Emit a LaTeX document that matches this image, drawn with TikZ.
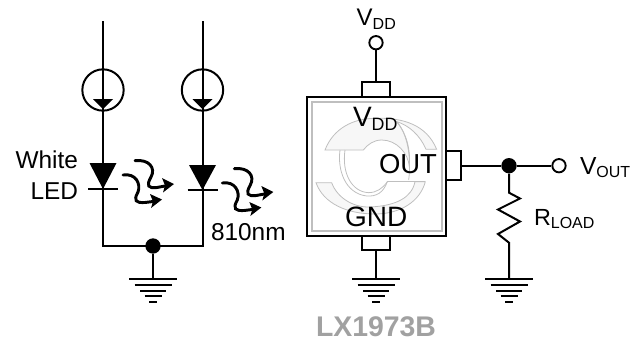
\documentclass[tikz,border=0pt]{standalone}
\usepackage{fontspec}
\setmainfont{Liberation Sans}
\usetikzlibrary{arrows.meta}
\newcommand{\fs}[1]{\fontsize{#1}{#1}\selectfont}
\newcommand{\lbl}[4]{\fs{#1}#2\raisebox{-#4pt}{\fs{12}#3}}
\tikzset{
  wire/.style={line width=1.5pt,line cap=butt},
  dotnode/.style={circle,fill=black,draw=none,inner sep=0pt,minimum size=11.5pt},
  pinnode/.style={circle,draw=black,fill=white,line width=1.4pt,inner sep=0pt,minimum size=10pt},
  srcnode/.style={circle,draw=black,line width=1.5pt,inner sep=0pt,minimum size=31pt},
  txt/.style={anchor=base west,inner sep=0pt,outer sep=0pt,text=black},
  logo/.style={fill=black!3,draw=black!25,line width=0.6pt},
  logoline/.style={draw=black!25,line width=0.6pt},
  wave/.style={line width=2.2pt,line cap=round},
  tip/.style={fill=black,draw=none}
}
\newcommand{\gnd}[2]{% x, top y
  \draw[wire] (#1-23.7,#2) -- (#1+23.7,#2);
  \draw[wire] (#1-18.5,#2+5.7) -- (#1+18.5,#2+5.7);
  \draw[wire] (#1-13,#2+11.4) -- (#1+13,#2+11.4);
  \draw[wire] (#1-8.5,#2+16.8) -- (#1+8.5,#2+16.8);
  \draw[wire] (#1-4,#2+22.4) -- (#1+4,#2+22.4);
}
\newcommand{\led}[3]{% x, top y of triangle, bar y
  \fill (#1-13.5,#2) -- (#1+13.5,#2) -- (#1,#3) -- cycle;
  \draw[wire] (#1-15,#3) -- (#1+15,#3);
}
\newcommand{\waves}[2]{% offsets
  \begin{scope}[shift={(#1,#2)}]
    \draw[wave] (123,175) .. controls (136,173) and (141,184) .. (138,192)
      .. controls (133,201) and (136,203) .. (145,202.5) -- (153,201.5);
    \fill[tip] (162,199.5) -- (150,194) -- (153,201.5) -- (151,208) -- cycle;
    \draw[wave] (135,160.7) .. controls (149,159) and (156,168) .. (151,177)
      .. controls (146,186) and (148,188.5) .. (157,187.5) -- (165,186);
    \fill[tip] (174,184) -- (162,178) -- (165,185.5) -- (163,192.5) -- cycle;
  \end{scope}
}
\begin{document}
\begin{tikzpicture}[x=0.75pt,y=-0.75pt]
\useasboundingbox (0,0) rectangle (640,343);

% current source branches
\coordinate (t1) at (103,21);
\coordinate (t2) at (202.5,21);
\coordinate (k1) at (103,189);
\coordinate (k2) at (202.5,190);
\coordinate (c1) at (103,246);
\coordinate (c2) at (202.5,246);
\node[srcnode] (s1) at (103,90) {};
\node[srcnode] (s2) at (202.5,90) {};
\draw[wire] (t1) -- (k1) -- (c1) -- (c2) -- (k2) -- (t2);
\fill (93,99) -- (113,99) -- (103,109) -- cycle;
\fill (192.5,99) -- (212.5,99) -- (202.5,109) -- cycle;
\led{103}{163}{189}
\led{202.5}{165}{190}
\waves{0}{0}
\waves{99.3}{8}
\node[dotnode] (j1) at (153,246) {};
\coordinate (g1) at (153,279.3);
\draw[wire] (j1) -- (g1);
\gnd{153}{279.3}

% chip
\draw[line width=1.5pt] (307,97) rectangle (446,236);
\draw[draw=black!25,line width=1.5pt] (311.7,101.7) rectangle (441.7,230.7);

% logo
\begin{scope}[shift={(300,90)},x=0.25pt,y=-0.25pt]
  \path[logo] (75,180) .. controls (100,115) and (160,85) .. (225,85)
    .. controls (310,82) and (380,105) .. (410,178) -- (378,178)
    .. controls (360,135) and (325,105) .. (290,95)
    .. controls (320,130) and (332,180) .. (328,230)
    .. controls (325,190) and (290,150) .. (245,150)
    .. controls (222,150) and (203,163) .. (190,180) -- cycle;
  \path[logoline] (290,95) .. controls (322,130) and (335,200) .. (326,270);
  \path[logoline] (120,180) .. controls (112,240) and (135,310) .. (200,318)
     .. controls (230,320) and (250,308) .. (262,275);
  \path[logoline] (135,180) .. controls (125,250) and (155,305) .. (205,308)
     .. controls (230,308) and (248,295) .. (262,275);
  \path[logo] (48,278) -- (95,278)
     .. controls (112,325) and (165,358) .. (225,350)
     .. controls (285,345) and (335,325) .. (345,275)
     -- (376,275)
     .. controls (360,335) and (300,372) .. (225,372)
     .. controls (140,372) and (70,340) .. (48,278) -- cycle;
  \path[logoline] (262,275) -- (376,275);
\end{scope}

% chip pads and wires
\draw[wire] (362,97) |- (390,82) -- (390,97);
\draw[wire] (362,236) |- (390,250) -- (390,236);
\draw[wire] (446,151) -| (460.7,180) -- (446,180);
\node[pinnode] (pv) at (376,42.7) {};
\coordinate (pt) at (376,82);
\draw[wire] (pv) -- (pt);
\coordinate (pb) at (376,250);
\coordinate (g2) at (376,279.3);
\draw[wire] (pb) -- (g2);
\gnd{376}{279.3}

% output
\coordinate (po) at (460.7,165.7);
\node[dotnode] (j2) at (509,165.7) {};
\node[pinnode] (pout) at (559,165.7) {};
\draw[wire] (po) -- (j2) -- (pout);
\coordinate (r1) at (509,192.7);
\coordinate (r2) at (509,242.7);
\coordinate (g3) at (509,279.3);
\draw[wire,line join=miter] (j2) -- (r1) -- (520,198.5) -- (498,209.5) -- (520,221.5) -- (498,234) -- (r2) -- (g3);
\gnd{509}{279.3}

% texts
\node[txt] (tw) at (15.5,168) {\fs{18.3}White};
\node[txt] (tl) at (30.5,199) {\fs{18.3}LED};
\node[txt] (tn) at (211,240.7) {\fs{18.3}810nm};
\node[txt] (tv) at (356.7,25) {\lbl{18}{V}{DD}{3.7}};
\node[txt] (tcv) at (353,126) {\fs{21}V\raisebox{-3pt}{\fs{13.4}DD}};
\node[txt] (tout) at (379,173) {\fs{20.6}OUT};
\node[txt] (tgnd) at (345,226) {\fs{21}GND};
\node[txt,text=black!37] (tic) at (316,336.7) {\fs{21.3}\bfseries LX1973B};
\node[txt] (tvo) at (580,174) {\lbl{18.5}{V}{OUT}{2.8}};
\node[txt] (trl) at (534,225) {\lbl{17.5}{R}{LOAD}{2.5}};
\end{tikzpicture}
\end{document}
